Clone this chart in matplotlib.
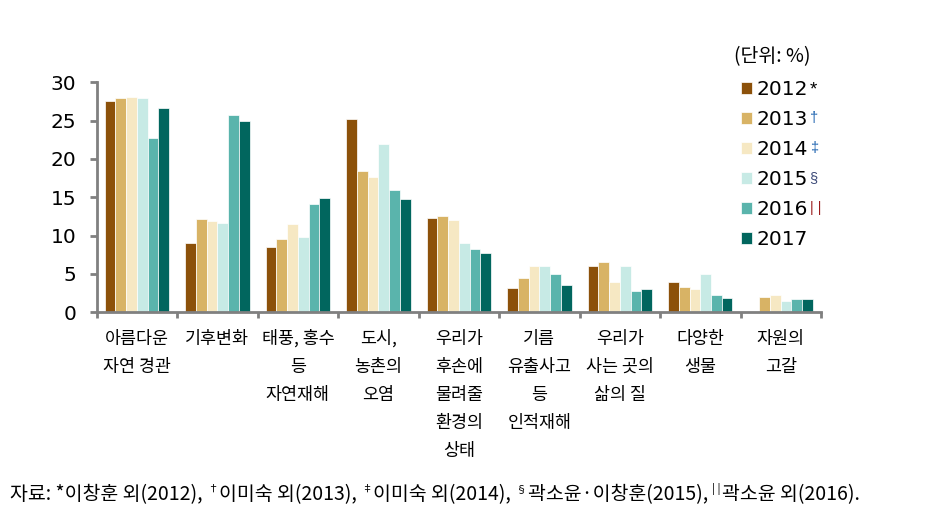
import numpy as np
import matplotlib
matplotlib.use("Agg")
import matplotlib.pyplot as plt

plt.rcParams['font.family'] = ['Noto Sans CJK KR', 'DejaVu Sans']

categories = ["아름다운\n자연 경관", "기후변화", "태풍, 홍수\n등\n자연재해", "도시,\n농촌의\n오염",
              "우리가\n후손에\n물려줄\n환경의\n상태", "기름\n유출사고\n등\n인적재해",
              "우리가\n사는 곳의\n삶의 질", "다양한\n생물", "자원의\n고갈"]
years = ["2012", "2013", "2014", "2015", "2016", "2017"]
year_marks = ["*", "\u2020", "\u2021", "\u00a7", "| |", ""]
mark_colors = ["black", "#1f64b0", "#1f64b0", "#3c4a78", "#9b1b1b", "black"]
colors = ["#8C510A", "#D8B365", "#F6E8C3", "#C7EAE5", "#5AB4AC", "#01665E"]

v2012 = [27.6, 9.0, 8.5, 25.2, 12.3, 3.2, 6.1, 4.0, np.nan]
v2013 = [27.9, 12.2, 9.5, 18.4, 12.6, 4.5, 6.5, 3.3, 2.0]
v2014 = [28.1, 11.9, 11.5, 17.6, 12.0, 6.1, 3.9, 3.0, 2.3]
v2015 = [28.0, 11.7, 9.8, 22.0, 9.1, 6.0, 6.0, 5.0, 1.5]
v2016 = [22.7, 25.7, 14.1, 15.9, 8.3, 5.0, 2.8, 2.3, 1.7]
v2017 = [26.7, 25.0, 14.9, 14.8, 7.7, 3.5, 3.0, 1.9, 1.7]
series = [v2012, v2013, v2014, v2015, v2016, v2017]

yticks = [0, 5, 10, 15, 20, 25, 30]

source_parts = [("자료: *이창훈 외(2012), ", False), ("\u2020", True), ("이미숙 외(2013), ", False),
                ("\u2021", True), ("이미숙 외(2014), ", False), ("\u00a7", True),
                ("곽소윤·이창훈(2015), ", False), ("| |", True), ("곽소윤 외(2016).", False)]

W, H = 937, 523
fig = plt.figure(figsize=(W / 100, H / 100), dpi=100)
ax = fig.add_axes([96.7 / W, 1 - 312.3 / H, (821 - 96.7) / W, (312.3 - 82.3) / H])

n = len(series)
bw = 0.8 / n
x = np.arange(len(categories))
handles = []
for i, (vals, c) in enumerate(zip(series, colors)):
    b = ax.bar(x - 0.4 + bw * (i + 0.5), vals, width=bw, color=c, edgecolor="white",
               linewidth=0.5, label=years[i])
    handles.append(b)

ax.set_xlim(-0.5, len(categories) - 0.5)
ax.set_ylim(0, 30)
for s in ["top", "right"]:
    ax.spines[s].set_visible(False)
for s in ["left", "bottom"]:
    ax.spines[s].set_color("#808080")
    ax.spines[s].set_linewidth(2)

ax.set_yticks(yticks)
ax.set_yticklabels([str(t) for t in yticks], fontsize=14.5, family="DejaVu Sans")
ax.tick_params(axis="y", length=5, width=2, color="#808080", pad=9.5)

ax.set_xticks(np.arange(len(categories) + 1) - 0.5)
ax.set_xticklabels([])
ax.tick_params(axis="x", which="major", length=4.5, width=2, color="#808080")
ax.set_xticks(x, minor=True)
ax.set_xticklabels(categories, minor=True, fontsize=12.5, linespacing=1.72, va="top")
ax.tick_params(axis="x", which="minor", length=0, pad=12.5)

leg = fig.legend(handles=handles, labels=years, loc="upper left",
                 bbox_to_anchor=(741 / W, 1 - 80 / H), frameon=False,
                 prop={"family": "DejaVu Sans", "size": 14.5},
                 handlelength=0.53, handleheight=0.53, handletextpad=0.25,
                 labelspacing=0.55, borderpad=0, borderaxespad=0)
fig.text(772 / W, 1 - 57 / H, "(단위: %)", ha="center", va="center", fontsize=14)

fig.canvas.draw()
r = fig.canvas.get_renderer()
for t, m, mc in zip(leg.get_texts(), year_marks, mark_colors):
    if not m:
        continue
    bb = t.get_window_extent(r)
    fig.text((bb.x1 + 1.5) / W, (bb.y1 - 1) / H, m, ha="left", va="top",
             fontsize=10.5 if m != "*" else 13.5, color=mc,
             family=["Liberation Sans", "DejaVu Sans"])

xs = 10
ybase = 1 - 500 / H
for s, sup in source_parts:
    if sup:
        t = fig.text(xs / W, ybase + 8 / H, s, fontsize=8, ha="left", va="baseline",
                     family=["Noto Sans CJK KR", "DejaVu Sans"])
    else:
        t = fig.text(xs / W, ybase, s, fontsize=14, ha="left", va="baseline",
                     family=["Noto Sans CJK KR", "DejaVu Sans"])
    bb = t.get_window_extent(r)
    xs = bb.x1 + (1 if sup else 0)

fig.savefig("out.png", dpi=100)
